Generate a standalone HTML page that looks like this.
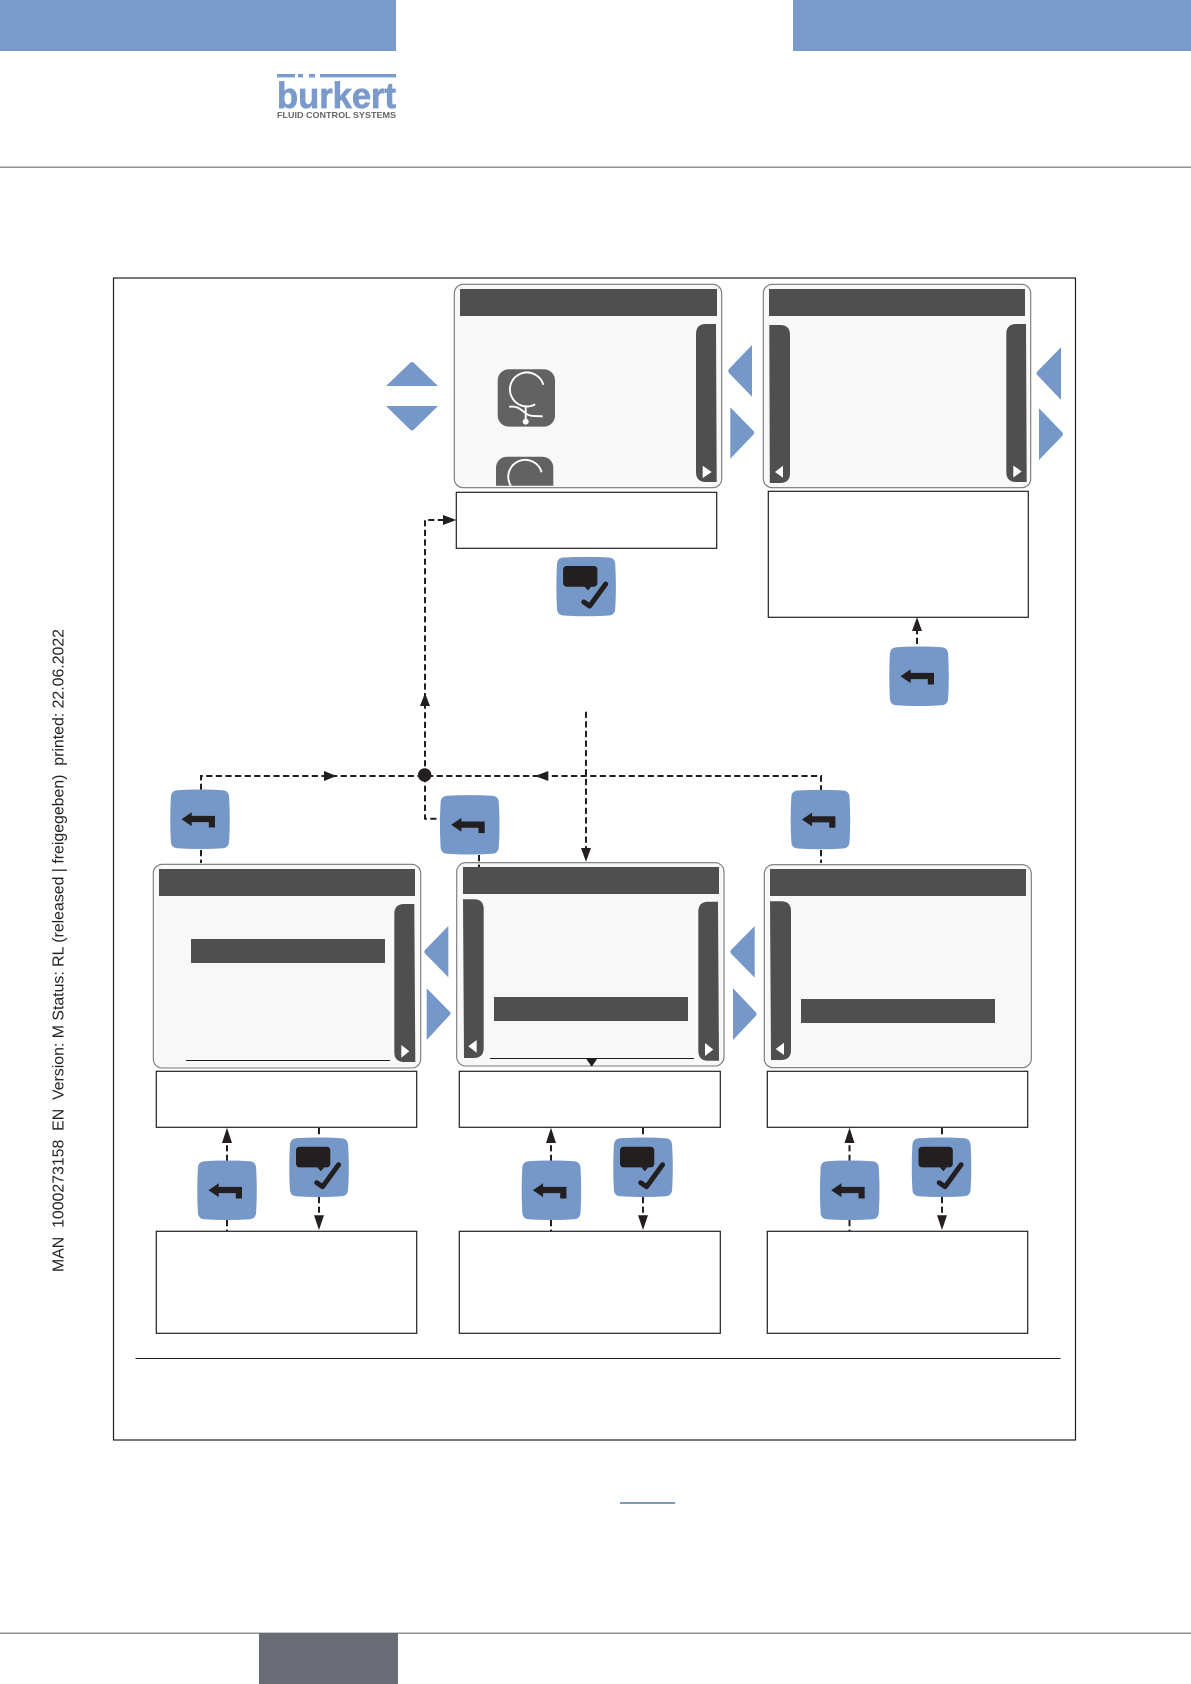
<!DOCTYPE html>
<html><head><meta charset="utf-8"><style>
html,body{margin:0;padding:0;background:#fff;width:1191px;height:1684px;overflow:hidden}
svg{display:block}
.s{fill:#f8f8f8;stroke:#777;stroke-width:1.1}
.d{fill:#504f50}
.b{fill:#7698c8}
.t{fill:#fff;stroke:#231f20;stroke-width:1.2}
.w{fill:#fff}
.k{fill:#231f20}
.l{fill:none;stroke:#231f20;stroke-width:2;stroke-dasharray:6.2 3.4}
</style></head><body>
<svg width="1191" height="1684" viewBox="0 0 1191 1684" xmlns="http://www.w3.org/2000/svg">
<defs>
<path id="body" fill="#7698c8" d="M7 .5Q30 -.8 52.5 .5Q58.3 1 58.8 7Q60.2 30 58.8 52Q58.3 58 52.5 58.5Q30 60 7 58.5Q1 58 .6 52Q-.7 30 .6 7Q1 1 7 .5Z"/>
<g id="back"><use href="#body"/><path fill="#231f20" d="M11.2 29.5L21.4 22.6V26.2H44.7V37.8H38.5V32.4H21.4V36.4Z"/></g>
<g id="check"><use href="#body"/><rect x="6.7" y="9" width="34.3" height="20.7" rx="3.5" fill="#231f20"/><path fill="#231f20" d="M28 29.5L31.5 33.5L35 29.5Z"/><path fill="none" stroke="#231f20" stroke-width="5" stroke-linecap="round" stroke-linejoin="round" d="M27.4 45L33.3 49L49.3 27"/></g>
<g id="glyph"><rect x="0" y="0" width="57.3" height="57.3" rx="11" fill="#636263"/><path fill="none" stroke="#fff" stroke-width="1.9" d="M45.6 15.5A17 17 0 1 0 37.5 35"/><path fill="none" stroke="#fff" stroke-width="1.9" d="M11.5 37.5C20 36 24 41 28 44C32 47.5 37 46.5 45 47"/><path fill="none" stroke="#fff" stroke-width="1.9" d="M28 36V52"/><circle cx="28" cy="52.3" r="3" fill="#fff"/></g>
<clipPath id="ic"><rect x="490" y="450" width="70" height="35.7"/></clipPath>
</defs>

<!-- page furniture -->
<rect x="0" y="0" width="396" height="51" fill="#7a9acb"/>
<rect x="793" y="0" width="398" height="51" fill="#7a9acb"/>
<rect x="0" y="166.6" width="1191" height="1.2" fill="#777"/>
<g fill="#7a9acb"><rect x="277" y="74" width="18" height="3.4"/><rect x="298" y="74" width="5" height="3.4"/><rect x="309" y="74" width="6" height="3.4"/><rect x="320" y="74" width="76" height="3.4"/></g>
<text x="277" y="108" font-family="'Liberation Sans',sans-serif" font-weight="700" font-size="36" fill="#7a9acb" stroke="#7a9acb" stroke-width=".7" textLength="119" lengthAdjust="spacingAndGlyphs">burkert</text>
<text x="277" y="118" font-family="'Liberation Sans',sans-serif" font-weight="700" font-size="8.4" fill="#666" textLength="119" lengthAdjust="spacingAndGlyphs">FLUID CONTROL SYSTEMS</text>

<text transform="translate(63.5 1272) rotate(-90)" font-family="'Liberation Sans',sans-serif" font-size="15.5" fill="#222" textLength="643" lengthAdjust="spacingAndGlyphs" style="white-space:pre">MAN  1000273158  EN  Version: M Status: RL (released | freigegeben)  printed: 22.06.2022</text>

<rect x="0" y="1632.6" width="1191" height="1.2" fill="#777"/>
<rect x="259" y="1633" width="139" height="51" fill="#696c74"/>
<rect x="620" y="1502" width="55" height="2" fill="#7a98c0"/>

<!-- frame -->
<rect x="113.5" y="278" width="962" height="1162" fill="#fff" stroke="#231f20" stroke-width="1.2"/>
<rect x="135.5" y="1358" width="925" height="1" fill="#231f20"/>

<!-- top screens -->
<rect class="s" x="454.3" y="284.3" width="267.4" height="203.4" rx="9"/>
<rect class="d" x="460" y="289" width="257" height="27"/>
<path class="d" d="M716 324L716.7 482H706Q696 482 696 472V334Q696 324 706 324Z"/>
<path class="w" d="M702.7 465.7L711.7 472L702.7 478Z"/>
<use href="#glyph" x="497.7" y="369.3"/>
<g clip-path="url(#ic)"><use href="#glyph" x="496" y="456.7"/></g>

<rect class="s" x="763.3" y="284.3" width="267.4" height="203.4" rx="9"/>
<rect class="d" x="769" y="289" width="256" height="27"/>
<path class="d" d="M769.3 325H780Q790 325 790 335V473Q790 483 780 483H769.8Z"/>
<path class="w" d="M783 465.7L775 472L783 477.7Z"/>
<path class="d" d="M1026 324L1026.7 482H1016.3Q1006.3 482 1006.3 472V334Q1006.3 324 1016.3 324Z"/>
<path class="w" d="M1013.3 465.5L1021.7 471.5L1013.3 477.5Z"/>

<!-- blue nav triangles top -->
<path class="b" d="M386 386L410 363Q412 361 414 363L438 386Z"/>
<path class="b" d="M386 406L410 429.5Q412 431.5 414 429.5L438 406Z"/>
<path class="b" d="M752 345L729 369Q727.5 371 729 373L752 396.7Z"/>
<path class="b" d="M730.3 407.3L753.5 431Q755 432.7 753.5 434.5L730.3 458.7Z"/>
<path class="b" d="M1061 347.3L1037.3 371.5Q1035.8 373.3 1037.3 375L1061 400Z"/>
<path class="b" d="M1039 408.3L1062.2 432.2Q1063.7 434 1062.2 436L1039 460Z"/>

<!-- top text boxes -->
<rect class="t" x="456.3" y="492.3" width="260.4" height="56"/>
<rect class="t" x="768.3" y="491.3" width="260" height="126"/>

<use href="#check" x="556.4" y="557"/>
<use href="#back" x="889.3" y="646.7"/>

<!-- lower screens -->
<rect class="s" x="153.3" y="864.3" width="267.4" height="203.7" rx="9"/>
<rect class="d" x="159" y="869" width="256" height="27"/>
<rect class="d" x="191" y="939" width="194" height="24"/>
<path class="d" d="M414.3 904L415.3 1062H404.3Q394.3 1062 394.3 1052V914Q394.3 904 404.3 904Z"/>
<path class="w" d="M401.3 1045L409.3 1051.3L401.3 1057.7Z"/>
<rect x="186" y="1060" width="204" height="1" fill="#231f20"/>

<rect class="s" x="456.7" y="862.7" width="267.3" height="203.3" rx="9"/>
<rect class="d" x="463" y="867" width="256" height="27"/>
<rect class="d" x="494" y="997" width="194" height="24"/>
<path class="d" d="M463 899.3H473.7Q483.7 899.3 483.7 909.3V1048Q483.7 1058 473.7 1058H464Z"/>
<path class="w" d="M476.7 1040L468.3 1046.3L476.7 1052.7Z"/>
<path class="d" d="M718 901.7L719 1060.7H708.3Q698.3 1060.7 698.3 1050.7V911.7Q698.3 901.7 708.3 901.7Z"/>
<path class="w" d="M705 1043L713.3 1049.5L705 1056Z"/>
<rect x="490" y="1058" width="204" height="1" fill="#231f20"/>
<path class="k" d="M585.7 1058H597.7L591.7 1066.7Z"/>

<rect class="s" x="764.3" y="864.7" width="267" height="203" rx="9"/>
<rect class="d" x="770" y="869" width="256" height="27"/>
<rect class="d" x="801" y="999" width="194" height="24"/>
<path class="d" d="M770 901.3H781Q791 901.3 791 911.3V1050Q791 1060 781 1060H771Z"/>
<path class="w" d="M784 1042.7L775.7 1049L784 1055Z"/>

<!-- blue nav triangles lower -->
<path class="b" d="M448.3 926L425 950Q423.5 951.7 425 953.5L448.3 977.3Z"/>
<path class="b" d="M426.7 988.3L449.8 1011.7Q451.3 1013.3 449.8 1015L426.7 1040Z"/>
<path class="b" d="M754.7 926L731 950Q729.5 951.7 731 953.5L754.7 977.7Z"/>
<path class="b" d="M733 988.3L755.8 1012.3Q757.3 1014 755.8 1016L733 1040Z"/>

<!-- lower text boxes -->
<rect class="t" x="156.3" y="1071.3" width="260.4" height="56"/>
<rect class="t" x="459.3" y="1071.3" width="261" height="56"/>
<rect class="t" x="767.3" y="1071.3" width="260.4" height="56"/>
<rect class="t" x="156.3" y="1231.3" width="260.4" height="102"/>
<rect class="t" x="459.3" y="1231.3" width="261" height="102"/>
<rect class="t" x="767.3" y="1231.3" width="260.4" height="102"/>

<!-- connectors -->
<path class="l" d="M425 776V520H443"/>
<path class="k" d="M443 515L456.3 520L443 525Z"/>
<path class="k" d="M425 693L430 706H420Z"/>
<path class="l" d="M201 790V776H821V790"/>
<path class="l" d="M201 850V863"/>
<path class="l" d="M425 776V818.7H440"/>
<path class="l" d="M479 855V867"/>
<path class="l" d="M821 850V863"/>
<path class="l" d="M586 711.7V849"/>
<path class="k" d="M581 848H591L586 861.7Z"/>
<path class="k" d="M324 771L336.7 776L324 781Z"/>
<path class="k" d="M548.3 771L535 776L548.3 781Z"/>
<circle cx="424.7" cy="775" r="6.7" fill="#231f20"/>
<path class="l" d="M917 644V631"/>
<path class="k" d="M912 631H922L917 617.3Z"/>

<!-- buttons -->
<use href="#back" x="170.3" y="789.7"/>
<use href="#back" x="440" y="795.3"/>
<use href="#back" x="790.7" y="790"/>

<g>
<path class="l" d="M227 1161V1142"/><path class="k" d="M222 1143H232L227 1127.8Z"/><path class="l" d="M227 1220V1231"/>
<path class="l" d="M319 1128V1138"/><path class="l" d="M319 1197V1216"/><path class="k" d="M314 1215.3H324L319 1230Z"/>
<use href="#back" x="197.3" y="1160.7"/><use href="#check" x="289.3" y="1137.7"/>
</g>
<g>
<path class="l" d="M551 1161V1142"/><path class="k" d="M546 1143H556L551 1127.8Z"/><path class="l" d="M551 1220V1231"/>
<path class="l" d="M643 1128V1138"/><path class="l" d="M643 1197V1216"/><path class="k" d="M638 1215.3H648L643 1230Z"/>
<use href="#back" x="521.7" y="1160.7"/><use href="#check" x="613.3" y="1137.7"/>
</g>
<g>
<path class="l" d="M849.5 1161V1142"/><path class="k" d="M844.5 1143H854.5L849.5 1127.8Z"/><path class="l" d="M849.5 1220V1231"/>
<path class="l" d="M942 1128V1138"/><path class="l" d="M942 1197V1216"/><path class="k" d="M937 1215.3H947L942 1230Z"/>
<use href="#back" x="820" y="1160.7"/><use href="#check" x="911.8" y="1137.7"/>
</g>
</svg>
</body></html>
